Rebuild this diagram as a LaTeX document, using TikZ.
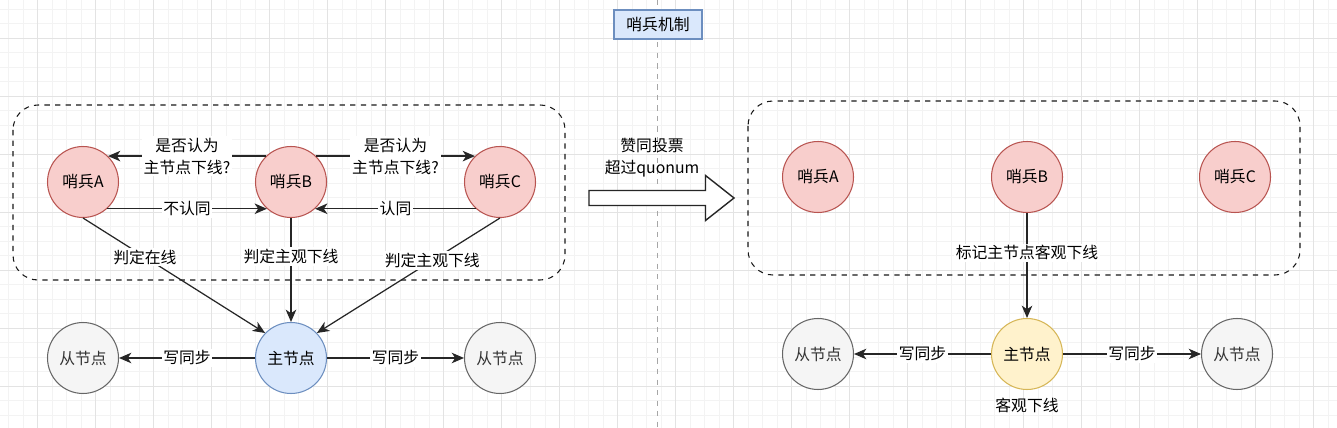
\documentclass[tikz,border=0pt]{standalone}
\usepackage{fontspec}
\setmainfont{Noto Sans CJK SC}
\usetikzlibrary{arrows.meta}
\definecolor{sentfill}{HTML}{F8CECC}
\definecolor{sentline}{HTML}{B85450}
\definecolor{slavefill}{HTML}{F5F5F5}
\definecolor{slaveline}{HTML}{666666}
\definecolor{masterfill}{HTML}{DAE8FC}
\definecolor{masterline}{HTML}{6C8EBF}
\definecolor{downfill}{HTML}{FFF2CC}
\definecolor{downline}{HTML}{D6B656}
\definecolor{gridminor}{HTML}{F3F3F3}
\definecolor{gridmajor}{HTML}{E3E3E3}

\begin{document}
\begin{tikzpicture}[x=0.02cm,y=-0.02cm,font=\fontsize{9}{12.5}\selectfont,
    sentinel/.style={circle,draw=sentline,fill=sentfill,line width=0.6pt,minimum size=1.42cm,inner sep=0pt},
    slavebox/.style={circle,draw=slaveline,fill=slavefill,line width=0.6pt,minimum size=1.42cm,inner sep=0pt,text=black!80},
    masterbox/.style={circle,draw=masterline,fill=masterfill,line width=0.6pt,minimum size=1.42cm,inner sep=0pt},
    downbox/.style={circle,draw=downline,fill=downfill,line width=0.6pt,minimum size=1.42cm,inner sep=0pt},
    group/.style={draw=black!90,dashed,line width=0.6pt,rounded corners=0.5cm},
    conn/.style={draw=black!85,line width=0.7pt,-{Stealth[length=7pt,width=6pt,inset=2pt]}},
    lbl/.style={fill=white,inner sep=1pt,align=center}]
  \useasboundingbox (0,0) rectangle (1337,428);
  \fill[white] (0,0) rectangle (1337,428);
  % grid
  \foreach \i in {0,...,91} \draw[gridminor,line width=0.4pt] ({8.5+14.5*\i},0) -- ++(0,428);
  \foreach \i in {0,...,29} \draw[gridminor,line width=0.4pt] (0,{9.3+14.5*\i}) -- ++(1337,0);
  \foreach \i in {0,...,22} \draw[gridmajor,line width=0.5pt] ({37.5+58*\i},0) -- ++(0,428);
  \foreach \i in {0,...,6} \draw[gridmajor,line width=0.5pt] (0,{38.3+58*\i}) -- ++(1337,0);
  \draw[black!35,dash pattern=on 3pt off 3pt,line width=0.5pt] (657.5,0) -- (657.5,428);

  \node[draw=masterline,fill=masterfill,line width=0.8pt,minimum width=1.76cm,minimum height=0.58cm] (title) at (658,24.5) {哨兵机制};

  % left: subjective down
  \draw[group] (13,105) rectangle (565,280);
  \node[sentinel] (sa) at (83,182) {哨兵A};
  \node[sentinel] (sb) at (291,182) {哨兵B};
  \node[sentinel] (sc) at (500,182) {哨兵C};
  \node[masterbox] (m) at (291,358) {主节点};
  \node[slavebox] (s1) at (83,358) {从节点};
  \node[slavebox] (s2) at (500,358) {从节点};

  \draw[conn] (sb.134) -- node[lbl] {是否认为\\主节点下线?} (sa.46);
  \draw[conn] (sb.46) -- node[lbl] {是否认为\\主节点下线?} (sc.134);
  \draw[conn] (sa.-48) -- node[lbl] {不认同} (sb.-132);
  \draw[conn] (sc.-132) -- node[lbl] {认同} (sb.-48);
  \draw[conn] (sa.south) -- node[lbl,pos=0.34] {判定在线} (m.136);
  \draw[conn] (sb.south) -- node[lbl,pos=0.37] {判定主观下线} (m.north);
  \draw[conn] (sc.south) -- node[lbl,pos=0.37] {判定主观下线} (m.44);
  \draw[conn] (m) -- node[lbl] {写同步} (s1);
  \draw[conn] (m) -- node[lbl] {写同步} (s2);

  % vote arrow
  \draw[black!85,fill=white,line width=0.8pt] (589,190.5) -- (705.5,190.5) -- (705.5,175.5) -- (734,198) -- (705.5,220.5) -- (705.5,205.5) -- (589,205.5) -- cycle;
  \node[align=center] (vote) at (652,158) {赞同投票\\超过quonum};

  % right: objective down
  \draw[group] (748,101) rectangle (1300,275);
  \node[sentinel] (ra) at (818,177) {哨兵A};
  \node[sentinel] (rb) at (1027,177) {哨兵B};
  \node[sentinel] (rc) at (1235,177) {哨兵C};
  \node[downbox] (rm) at (1027,354) {主节点};
  \node[slavebox] (r1) at (818,354) {从节点};
  \node[slavebox] (r2) at (1237,354) {从节点};
  \node (odown) at (1027,405) {客观下线};

  \draw[conn] (rb.south) -- node[lbl,pos=0.38] {标记主节点客观下线} (rm.north);
  \draw[conn] (rm) -- node[lbl] {写同步} (r1);
  \draw[conn] (rm) -- node[lbl] {写同步} (r2);
\end{tikzpicture}
\end{document}
